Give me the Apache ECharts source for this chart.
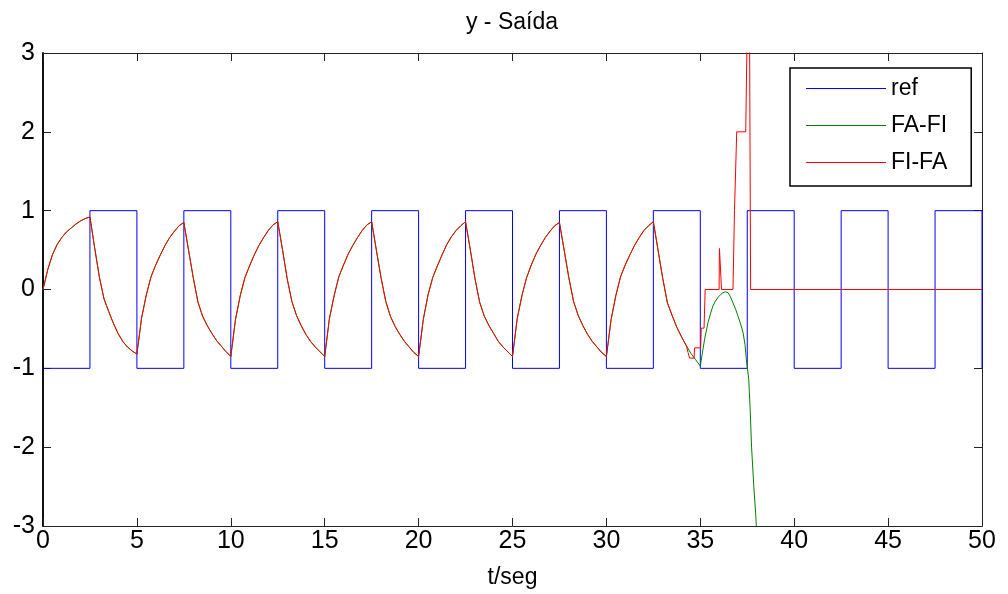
<!DOCTYPE html>
<html><head><meta charset="utf-8">
<script src="https://cdn.jsdelivr.net/npm/echarts@6/dist/echarts.min.js"></script>
<style>html,body{margin:0;padding:0;background:#fff}#c{width:1008px;height:594px}</style>
</head><body><div id="c"></div><script>
// ---- data ----
const seriesNames = ['ref', 'FA-FI', 'FI-FA'];
const xTicksMin = 0, xTicksMax = 50, xTickStep = 5;
const yTicksMin = -3, yTicksMax = 3, yTickStep = 1;

// reference square wave (switch times and levels)
const refT = [0, 2.5, 5, 7.5, 10, 12.5, 15, 17.5, 20, 22.5, 25, 27.5, 30, 32.5, 35, 37.5, 40, 42.5, 45, 47.5, 50];
const refY = [-1, 1, -1, 1, -1, 1, -1, 1, -1, 1, -1, 1, -1, 1, -1, 1, -1, 1, -1, 1, -1];

// shared output (both controllers coincide) sampled every 0.25 s from t=0 to t=34.25
const sharedStep = 0.25;
const sharedY = [
  0.00, 0.25, 0.44, 0.57, 0.66, 0.73, 0.78, 0.83, 0.87, 0.90, 0.92,
  0.53, 0.16, -0.12, -0.28, -0.43, -0.56, -0.66, -0.73, -0.78, -0.82,
  -0.36, -0.07, 0.16, 0.31, 0.44, 0.56, 0.66, 0.74, 0.81, 0.85,
  0.50, 0.15, -0.16, -0.34, -0.46, -0.56, -0.65, -0.72, -0.79, -0.85,
  -0.38, -0.08, 0.15, 0.30, 0.44, 0.56, 0.66, 0.75, 0.82, 0.86,
  0.51, 0.14, -0.15, -0.33, -0.46, -0.57, -0.66, -0.73, -0.79, -0.85,
  -0.37, -0.08, 0.16, 0.31, 0.45, 0.56, 0.66, 0.75, 0.82, 0.86,
  0.50, 0.15, -0.15, -0.34, -0.47, -0.57, -0.66, -0.73, -0.80, -0.85,
  -0.38, -0.07, 0.15, 0.30, 0.44, 0.57, 0.67, 0.75, 0.81, 0.86,
  0.51, 0.14, -0.16, -0.34, -0.46, -0.56, -0.66, -0.73, -0.79, -0.85,
  -0.37, -0.08, 0.15, 0.31, 0.45, 0.56, 0.66, 0.74, 0.81, 0.85,
  0.50, 0.15, -0.15, -0.33, -0.46, -0.57, -0.66, -0.73, -0.80, -0.85,
  -0.38, -0.08, 0.16, 0.31, 0.44, 0.56, 0.66, 0.75, 0.81, 0.86,
  0.50, 0.14, -0.17, -0.33, -0.48, -0.60, -0.71
];

// FA-FI after t = 34.25
const faFiTailT = [34.5, 34.75, 35.0, 35.1, 35.23, 35.41, 35.55, 35.67, 35.8, 35.94, 36.1, 36.21, 36.35, 36.48, 36.6, 36.74, 36.88, 37.01, 37.15, 37.28, 37.38, 37.45, 37.58, 37.66, 37.73, 37.85, 37.95, 38.05];
const faFiTailY = [-0.81, -0.89, -0.97, -0.82, -0.63, -0.42, -0.30, -0.21, -0.15, -0.10, -0.06, -0.04, -0.03, -0.04, -0.09, -0.17, -0.25, -0.34, -0.44, -0.55, -0.70, -0.88, -1.14, -1.55, -2.0, -2.5, -2.85, -3.3];

// FI-FA after t = 34.25
const fiFaTailT = [34.35, 34.43, 34.67, 34.69, 35.02, 35.05, 35.2, 35.26, 36.0, 36.02, 36.1, 36.13, 36.74, 36.82, 36.84, 36.94, 37.42, 37.5, 37.62, 37.68, 50];
const fiFaTailY = [-0.80, -0.87, -0.87, -0.74, -0.74, -0.49, -0.49, 0.0, 0.0, 0.52, 0.52, 0.0, 0.0, 1.0, 1.0, 2.0, 2.0, 3.4, 3.4, 0.0, 0.0];

// ---- build ----
const shared = sharedY.map((v, i) => [i * sharedStep, v]);
const refData = refT.map((t, i) => [t, refY[i]]);
const faFiData = shared.concat(faFiTailT.map((t, i) => [t, faFiTailY[i]]));
const fiFaData = shared.concat(fiFaTailT.map((t, i) => [t, fiFaTailY[i]]));

const FONT = '"Liberation Sans", Arial, Helvetica, sans-serif';
const axisLineStyle = { color: '#222', width: 1 };
const tickStyle = { show: true, inside: true, length: 8, lineStyle: { color: '#222', width: 1 } };

const chart = echarts.init(document.getElementById('c'), null, { renderer: 'canvas' });
chart.setOption({
  animation: false,
  backgroundColor: '#fff',
  graphic: [{
    type: 'text', x: 512, y: 11, z: 10,
    style: { text: 'y - Saída', font: '23px ' + FONT, fill: '#000', align: 'center', verticalAlign: 'top' }
  }],
  grid: { left: 43, right: 26, top: 53, bottom: 67, show: false },
  legend: {
    data: seriesNames, orient: 'vertical', left: 790, top: 68,
    icon: 'rect',
    padding: [9, 24, 12, 16], itemGap: 14, itemWidth: 80, itemHeight: 1, itemTextGap: 9,
    backgroundColor: '#fff', borderColor: '#000', borderWidth: 1.5,
    textStyle: { fontFamily: FONT, fontSize: 23, color: '#000' }
  },
  xAxis: [{
    type: 'value', min: xTicksMin, max: xTicksMax, interval: xTickStep, position: 'bottom',
    axisLine: { show: true, onZero: false, lineStyle: axisLineStyle },
    axisTick: tickStyle,
    axisLabel: { fontFamily: FONT, fontSize: 25, color: '#000', margin: 3 },
    splitLine: { show: false },
    name: 't/seg', nameLocation: 'middle', nameGap: 40,
    nameTextStyle: { fontFamily: FONT, fontSize: 23, color: '#000' }
  }, {
    type: 'value', min: xTicksMin, max: xTicksMax, interval: xTickStep, position: 'top',
    axisLine: { show: true, onZero: false, lineStyle: axisLineStyle },
    axisTick: tickStyle, axisLabel: { show: false }, splitLine: { show: false }
  }],
  yAxis: [{
    type: 'value', min: yTicksMin, max: yTicksMax, interval: yTickStep, position: 'left',
    axisLine: { show: true, onZero: false, lineStyle: { color: '#111', width: 2 } },
    axisTick: tickStyle,
    axisLabel: { fontFamily: FONT, fontSize: 25, color: '#000', margin: 8 },
    splitLine: { show: false }
  }, {
    type: 'value', min: yTicksMin, max: yTicksMax, interval: yTickStep, position: 'right',
    axisLine: { show: true, onZero: false, lineStyle: axisLineStyle },
    axisTick: tickStyle, axisLabel: { show: false }, splitLine: { show: false }
  }],
  series: [{
    name: seriesNames[0], type: 'line', step: 'end', data: refData, symbol: 'none',
    lineStyle: { color: '#0000ff', width: 1 }, itemStyle: { color: '#0000ff' }, clip: true
  }, {
    name: seriesNames[1], type: 'line', data: faFiData, symbol: 'none',
    lineStyle: { color: '#008000', width: 1 }, itemStyle: { color: '#008000' }, clip: true
  }, {
    name: seriesNames[2], type: 'line', data: fiFaData, symbol: 'none',
    lineStyle: { color: '#ff0000', width: 1 }, itemStyle: { color: '#ff0000' }, clip: true
  }]
});
</script></body></html>
